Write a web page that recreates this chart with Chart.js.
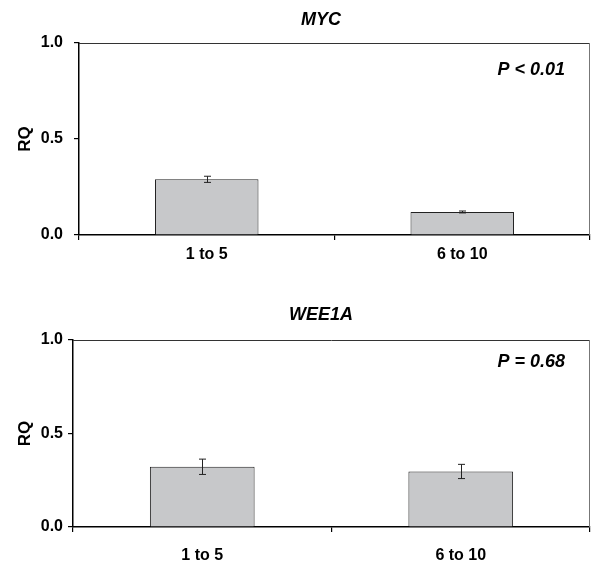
<!DOCTYPE html>
<html>
<head>
<meta charset="utf-8">
<script src="https://cdn.jsdelivr.net/npm/chart.js@4"></script>
<style>
  body { margin: 0; background: #fff; }
  #wrap { position: relative; width: 598px; height: 565px; }
  canvas { position: absolute; left: 0; }
</style>
</head>
<body>
<div id="wrap">
  <canvas id="mycChart" width="598" height="280" style="top:0"></canvas>
  <canvas id="weeChart" width="598" height="285" style="top:280px"></canvas>
</div>
<script>
// Datos
const categories = ['1 to 5', '6 to 10'];
const yTicks = [0.0, 0.5, 1.0];
const mycValues = [0.29, 0.12];
const mycErrors = [0.016, 0.005];
const wee1aValues = [0.322, 0.297];
const wee1aErrors = [0.041, 0.038];

const FONT = 'Liberation Sans, Arial, sans-serif';

// Plugin: marco, barras de error, titulo del gen y valor P
const extrasPlugin = {
    id: 'extras',
    afterDatasetsDraw(chart, args, opts) {
        const ctx = chart.ctx;
        const a = chart.chartArea;
        const y = chart.scales.y;

        ctx.save();
        // marco superior y derecho
        ctx.lineWidth = 1;
        ctx.strokeStyle = '#333';
        ctx.beginPath();
        ctx.moveTo(a.left, a.top + 0.5);
        ctx.lineTo(a.right, a.top + 0.5);
        ctx.stroke();
        ctx.strokeStyle = '#777';
        ctx.beginPath();
        ctx.moveTo(a.right - 0.5, a.top);
        ctx.lineTo(a.right - 0.5, a.bottom);
        ctx.stroke();

        // barras de error
        const meta = chart.getDatasetMeta(0);
        const values = chart.data.datasets[0].data;
        ctx.strokeStyle = '#222';
        opts.errors.forEach((e, i) => {
            const cx = Math.round(meta.data[i].x) + 0.5;
            const yt = y.getPixelForValue(values[i] + e);
            const yb = y.getPixelForValue(values[i] - e);
            ctx.beginPath();
            ctx.moveTo(cx, yt); ctx.lineTo(cx, yb);
            ctx.moveTo(cx - 3.5, yt); ctx.lineTo(cx + 3.5, yt);
            ctx.moveTo(cx - 3.5, yb); ctx.lineTo(cx + 3.5, yb);
            ctx.stroke();
        });

        // textos
        ctx.fillStyle = '#000';
        ctx.textBaseline = 'middle';
        ctx.font = 'italic bold 18px ' + FONT;
        ctx.textAlign = 'center';
        ctx.fillText(opts.gene, opts.geneX, opts.geneY);
        ctx.textAlign = 'right';
        ctx.fillText(opts.pText, opts.pX, opts.pY);
        ctx.restore();
    }
};

function makeChart(id, values, errors, gene, pText, cfg) {
    const tickFont = { family: FONT, size: 16, weight: 'bold' };
    return new Chart(document.getElementById(id), {
        type: 'bar',
        data: {
            labels: categories,
            datasets: [{
                data: values,
                backgroundColor: '#c7c8ca',
                borderColor: '#222',
                borderWidth: 1,
                borderSkipped: 'bottom',
                categoryPercentage: 1,
                barPercentage: 0.405
            }]
        },
        options: {
            responsive: false,
            animation: false,
            layout: { padding: { top: cfg.top, right: 8, left: 0, bottom: 0 } },
            plugins: {
                legend: { display: false },
                tooltip: { enabled: false },
                extras: {
                    errors: errors,
                    gene: gene,
                    pText: pText,
                    geneX: 321,
                    geneY: cfg.geneY,
                    pX: 565,
                    pY: cfg.pY
                }
            },
            scales: {
                x: {
                    grid: { offset: true, drawOnChartArea: false, tickLength: 5, color: '#000', lineWidth: 1.2 },
                    border: { color: '#000', width: 1.5 },
                    ticks: { font: tickFont, color: '#000', padding: cfg.xPad },
                    afterFit: s => { s.height = cfg.xHeight; }
                },
                y: {
                    min: 0,
                    max: 1,
                    afterBuildTicks: s => { s.ticks = yTicks.map(v => ({ value: v })); },
                    grid: { drawOnChartArea: false, tickLength: 5, color: '#000', lineWidth: 1.2 },
                    border: { color: '#000', width: 1.5 },
                    ticks: {
                        font: tickFont,
                        color: '#000',
                        padding: cfg.yPad,
                        callback: v => Number(v).toFixed(1)
                    },
                    title: {
                        display: true,
                        text: 'RQ',
                        color: '#000',
                        font: { family: FONT, size: 17, weight: 'bold' },
                        padding: { top: 15, bottom: 0 }
                    },
                    afterFit: s => { s.width = cfg.yWidth; }
                }
            }
        },
        plugins: [extrasPlugin]
    });
}

makeChart('mycChart', mycValues, mycErrors, 'MYC', 'P < 0.01',
    { top: 43, xHeight: 45, xPad: 5, yWidth: 79, yPad: 11, geneY: 20, pY: 70 });
makeChart('weeChart', wee1aValues, wee1aErrors, 'WEE1A', 'P = 0.68',
    { top: 60, xHeight: 38, xPad: 14, yWidth: 73, yPad: 5, geneY: 35, pY: 82 });
</script>
</body>
</html>
